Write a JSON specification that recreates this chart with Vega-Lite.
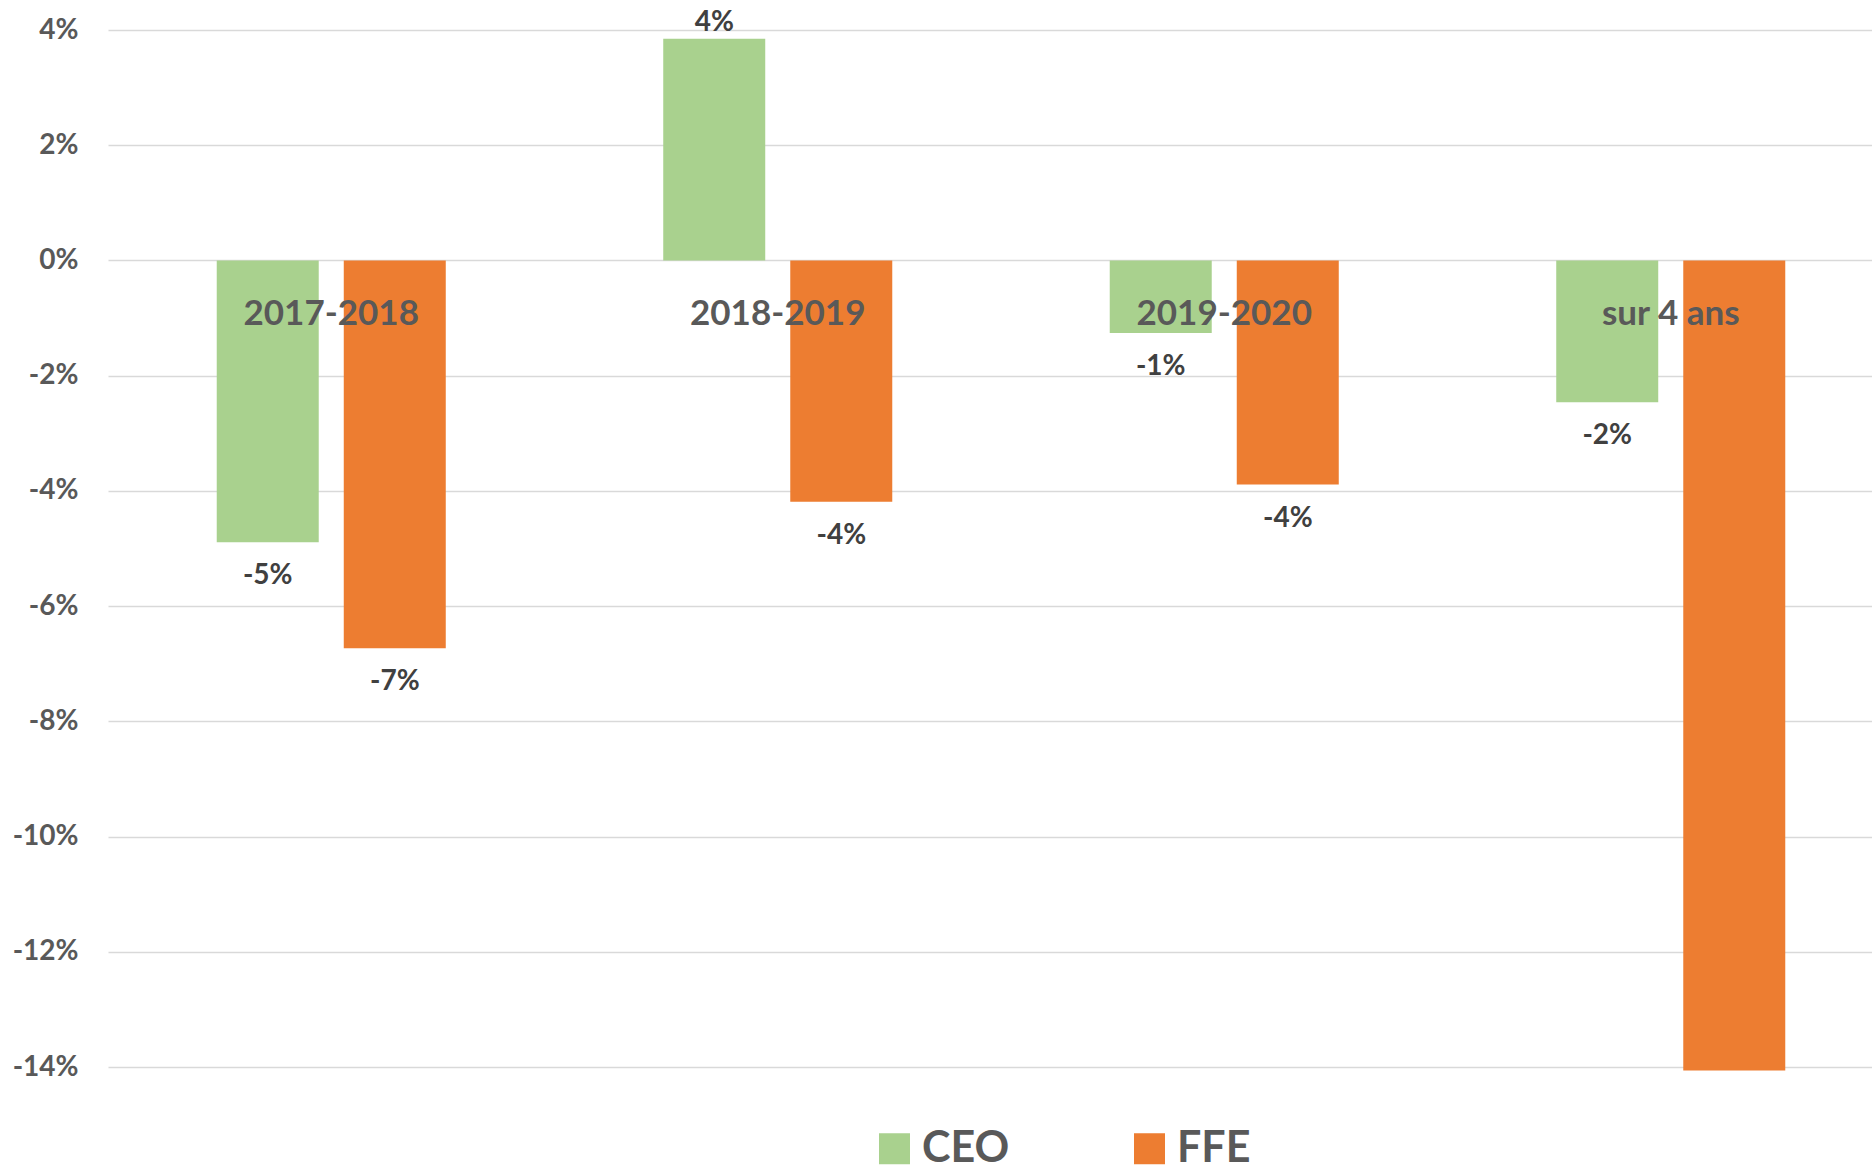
{
  "$schema": "https://vega.github.io/schema/vega-lite/v6.json",
  "width": 1764,
  "height": 1037,
  "autosize": {"type": "none"},
  "padding": {"left": 108, "top": 30, "right": 0, "bottom": 105},
  "background": "white",
  "config": {"view": {"stroke": null}, "font": "Lato"},
  "data": {"values": [
    {"period": "2017-2018", "series": "CEO", "value": -0.0489},
    {"period": "2017-2018", "series": "FFE", "value": -0.0673},
    {"period": "2018-2019", "series": "CEO", "value": 0.0385},
    {"period": "2018-2019", "series": "FFE", "value": -0.0419},
    {"period": "2019-2020", "series": "CEO", "value": -0.0126},
    {"period": "2019-2020", "series": "FFE", "value": -0.0389},
    {"period": "sur 4 ans", "series": "CEO", "value": -0.0246},
    {"period": "sur 4 ans", "series": "FFE", "value": -0.1406}
  ]},
  "encoding": {
    "x": {"field": "period", "type": "nominal", "sort": null, "scale": {"range": [0, 1786], "paddingInner": 0, "paddingOuter": 0}, "axis": null}
  },
  "layer": [
    {
      "mark": {"type": "bar"},
      "encoding": {
        "xOffset": {"field": "series", "type": "nominal", "sort": ["CEO", "FFE"], "scale": {"paddingInner": 0.197, "paddingOuter": 0.856}},
        "y": {"field": "value", "type": "quantitative",
          "scale": {"domain": [-0.14, 0.04], "nice": false, "zero": true},
          "axis": {"title": null, "values": [-0.14, -0.12, -0.1, -0.08, -0.06, -0.04, -0.02, 0, 0.02, 0.04], "format": ".0%",
            "labelExpr": "replace(datum.label, '\u2212', '-')",
            "domain": false, "ticks": false, "grid": true, "gridColor": "#D9D9D9", "gridWidth": 1.5,
            "labelFontSize": 28, "labelFontWeight": "bold", "labelColor": "#595959", "labelPadding": 30}},
        "color": {"field": "series", "type": "nominal",
          "scale": {"domain": ["CEO", "FFE"], "range": ["#A9D18E", "#ED7D31"]},
          "legend": {"title": null, "orient": "none", "legendX": 765, "legendY": 1097, "direction": "horizontal",
            "symbolType": "square", "symbolSize": 961, "symbolStrokeWidth": 0, "symbolOpacity": 1,
            "labelFontSize": 43, "labelFontWeight": "bold", "labelColor": "#595959", "labelOffset": 6,
            "columnPadding": 118, "padding": 0}}
      }
    },
    {
      "transform": [{"filter": "datum.value < 0 && datum.value > -0.1"}],
      "mark": {"type": "text", "dy": 34, "baseline": "middle", "align": "center", "fontSize": 28, "fontWeight": "bold", "color": "#404040",
        "text": {"expr": "replace(format(datum.value, '.0%'), '\u2212', '-')"}},
      "encoding": {
        "xOffset": {"field": "series", "type": "nominal", "sort": ["CEO", "FFE"]},
        "y": {"field": "value", "type": "quantitative"}
      }
    },
    {
      "transform": [{"filter": "datum.value >= 0"}],
      "mark": {"type": "text", "dy": -16, "baseline": "middle", "align": "center", "fontSize": 28, "fontWeight": "bold", "color": "#404040",
        "text": {"expr": "replace(format(datum.value, '.0%'), '\u2212', '-')"}},
      "encoding": {
        "xOffset": {"field": "series", "type": "nominal", "sort": ["CEO", "FFE"]},
        "y": {"field": "value", "type": "quantitative"}
      }
    },
    {
      "transform": [{"filter": "datum.series == 'CEO'"}],
      "mark": {"type": "text", "baseline": "middle", "align": "center", "fontSize": 35, "fontWeight": "bold", "color": "#595959"},
      "encoding": {
        "y": {"datum": -0.0093},
        "text": {"field": "period", "type": "nominal"}
      }
    }
  ]
}
